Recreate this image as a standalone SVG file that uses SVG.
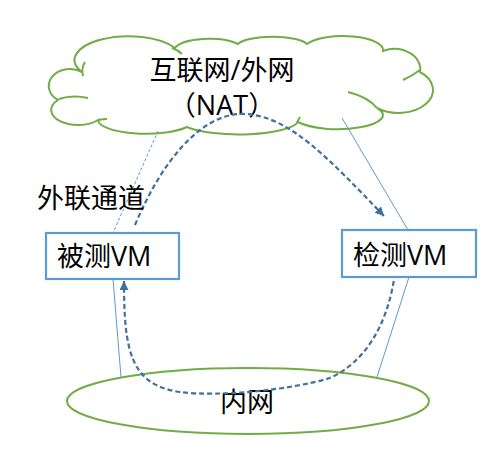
<svg xmlns="http://www.w3.org/2000/svg" width="486" height="452" viewBox="0 0 486 452">
<style>
.t{font-family:"Open Sans","Noto Sans CJK SC",sans-serif;font-size:27px;fill:#000}
.box{fill:#fff;stroke:#5B9BD5;stroke-width:2.2}
.green{fill:none;stroke:#70AD47;stroke-width:2}
.thin{fill:none;stroke:#5B9BD5;stroke-width:1}
.flow{fill:none;stroke:#41719C;stroke-width:2.2;stroke-dasharray:5 3}
</style>
<defs>
<marker id="ah" markerUnits="userSpaceOnUse" markerWidth="10" markerHeight="10" refX="9" refY="4.5" orient="auto">
<path d="M0,0 L9,4.5 L0,9 z" fill="#41719C"/>
</marker>
</defs>
<rect width="486" height="452" fill="#fff"/>
<g id="internet">
<path class="green" fill="#fff" d="M58,100 A20,16 0 0 1 82,72 A50,22 0 0 1 175,48 A35,12 0 0 1 238,44 A36,10 0 0 1 307,44 A40,14 0 0 1 383,51 A26,20 0 0 1 420,72 A30,20 0 0 1 377,108 A45,14 0 0 1 298,122 A60,15 0 0 1 187,127 A48,14 0 0 1 98,120 A25,14 0 0 1 58,100 Z" style="fill:#fff"/>
<path class="green" d="M59,99 C68,96 79,96 88,98"/>
<path class="green" d="M83,76 Q81,68 85,62"/>
<path class="green" d="M172,48 Q178,50 182,54"/>
<path class="green" d="M420,70 Q412,76 403,80"/>
<path class="green" d="M348,92 Q368,97 377,108"/>
<path class="green" d="M297,123 Q298,120 300,117"/>
<path class="green" d="M98,120 Q103,119 107,119"/>
<text class="t" x="222" y="80" text-anchor="middle">互联网/外网</text>
<text class="t" x="222" y="115" text-anchor="middle">（NAT）</text>
</g>
<g id="intranet">
<ellipse class="green" cx="248" cy="401" rx="181" ry="33"/>
<text class="t" x="220" y="412">内网</text>
</g>
<g id="connectors">
<line class="thin" x1="158" y1="131" x2="113" y2="233" stroke-dasharray="3 2"/>
<line class="thin" x1="342" y1="118" x2="408" y2="230"/>
<line class="thin" x1="113" y1="279" x2="121" y2="377"/>
<line class="thin" x1="409" y1="277" x2="377" y2="377"/>
<path class="flow" d="M135,225 C160,165 200,112 245,114 C290,116 330,160 384,216" marker-end="url(#ah)"/>
<path class="flow" d="M395,273 C388,325 365,362 330,378 C290,390 220,397 180,392 C130,385 124,350 124,281" marker-end="url(#ah)"/>
</g>
<g id="label-channel">
<text class="t" x="37" y="208">外联通道</text>
</g>
<g id="vm-tested">
<rect class="box" x="46" y="233" width="133" height="46"/>
<text class="t" x="57" y="266">被测VM</text>
</g>
<g id="vm-detector">
<rect class="box" x="342" y="230" width="134" height="47"/>
<text class="t" x="353" y="265">检测VM</text>
</g>
</svg>
